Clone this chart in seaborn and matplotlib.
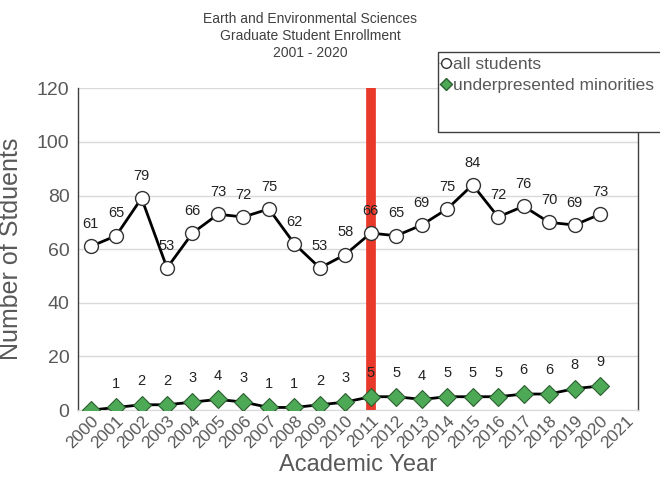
import matplotlib
matplotlib.use("Agg")
import matplotlib.pyplot as plt
import seaborn as sns
import pandas as pd
from matplotlib.lines import Line2D
from matplotlib.patches import Rectangle

years = list(range(2000, 2021))
tick_years = list(range(2000, 2022))
all_students = [61, 65, 79, 53, 66, 73, 72, 75, 62, 53, 58, 66, 65, 69, 75, 84, 72, 76, 70, 69, 73]
minorities = [0, 1, 2, 2, 3, 4, 3, 1, 1, 2, 3, 5, 5, 4, 5, 5, 5, 6, 6, 8, 9]
marker_year = 2011

df = pd.DataFrame({"Year": years, "all": all_students, "min": minorities})

sns.set_style("white")
plt.rcParams["font.family"] = ["Liberation Sans", "DejaVu Sans"]
grey = "#595959"

fig = plt.figure(figsize=(6.6, 4.9), dpi=100)
ax = fig.add_axes([0.118, 0.163, 0.849, 0.657])

ax.axvline(marker_year, ymin=0, ymax=1, color="#E8392A", lw=7, zorder=1)

sns.lineplot(data=df, x="Year", y="all", ax=ax, color="black", lw=2,
             marker="o", markersize=10, markerfacecolor="white",
             markeredgecolor="#333333", markeredgewidth=1, zorder=3)
sns.lineplot(data=df, x="Year", y="min", ax=ax, color="black", lw=2,
             marker="D", markersize=9, markerfacecolor="#4EA957",
             markeredgecolor="#2b5e2f", markeredgewidth=0.8, zorder=3)

for x, v in zip(years, all_students):
    ax.annotate(str(v), (x, v), xytext=(0, 11), textcoords="offset points",
                ha="center", va="bottom", fontsize=10.5, color="#222222")
for x, v in zip(years, minorities):
    if v == 0:
        continue
    ax.annotate(str(v), (x, v), xytext=(0, 12), textcoords="offset points",
                ha="center", va="bottom", fontsize=10.5, color="#222222")

ax.set_xlim(1999.5, 2021.5)
ax.set_ylim(0, 120)
ax.set_yticks(range(0, 121, 20))
ax.set_xticks(tick_years)
ax.set_xticklabels([str(y) for y in tick_years], rotation=45, ha="right",
                   rotation_mode="anchor", fontsize=12.5, color=grey)
ax.tick_params(axis="y", labelsize=14, colors=grey, length=0, pad=6)
ax.tick_params(axis="x", length=0, pad=2)
ax.yaxis.grid(True, color="#d9d9d9", lw=1)
ax.set_axisbelow(True)
for s in ["left", "right"]:
    ax.spines[s].set_color("#404040")
    ax.spines[s].set_linewidth(1)
ax.spines["top"].set_visible(False)
ax.spines["bottom"].set_color("#d9d9d9")

ax.set_xlabel("Academic Year", fontsize=17, color=grey, labelpad=2)
ax.set_ylabel("Number of Stduents", fontsize=18, color=grey)
ax.yaxis.set_label_coords(-0.098, 0.5)

fig.text(0.47, 0.975, "Earth and Environmental Sciences\nGraduate Student Enrollment\n2001 - 2020",
         ha="center", va="top", fontsize=10, color="#404040", linespacing=1.25)

# legend box (taller than its contents, like the original)
fig.patches.append(Rectangle((438 / 660, 1 - 132 / 490), 0.4, 80 / 490,
                             transform=fig.transFigure, facecolor="white",
                             edgecolor="#404040", lw=1, zorder=5))
handles = [
    Line2D([0], [0], color="#aaaaaa", lw=1, marker="o", markersize=7,
           markerfacecolor="white", markeredgecolor="#333333"),
    Line2D([0], [0], color="#aaaaaa", lw=1, marker="D", markersize=6,
           markerfacecolor="#4EA957", markeredgecolor="#2b5e2f"),
]
leg = fig.legend(handles, ["all students", "underpresented minorities"],
                 loc="upper left", bbox_to_anchor=(436 / 660, 1 - 53 / 490),
                 fontsize=12.5, frameon=False, handlelength=0.7,
                 handletextpad=0.1, borderaxespad=0, borderpad=0.2,
                 labelspacing=0.35, labelcolor=grey)
leg.set_zorder(6)

fig.savefig("out.png", dpi=100)
plt.close(fig)
